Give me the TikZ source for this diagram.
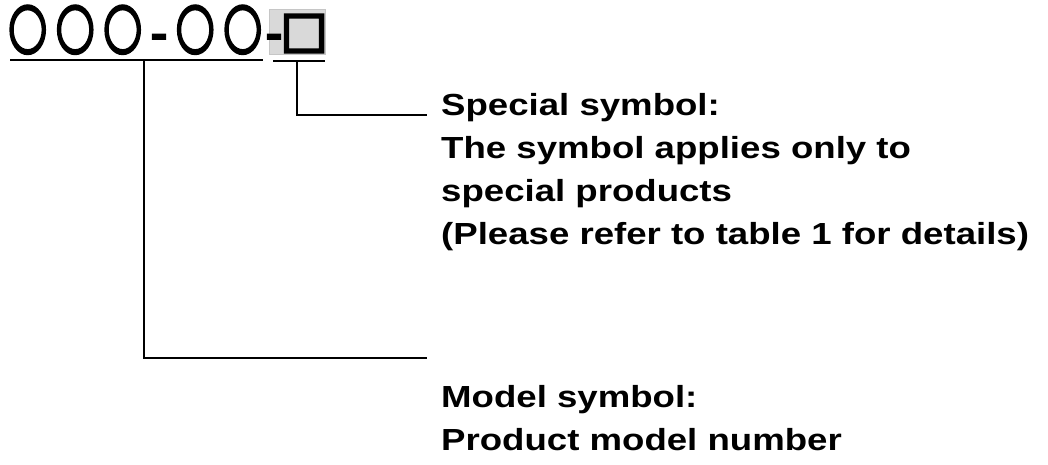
\documentclass[tikz,border=0pt]{standalone}
\usepackage{fontspec}
\setmainfont{Liberation Sans}[FakeStretch=1.2]
\newfontfamily\codefont{Noto Sans CJK JP}[FakeBold=8]
\usetikzlibrary{positioning}
\newcommand\codeslot[2]{\makebox[#1]{\scalebox{0.72}[1]{#2}}}
\newcommand\codedash[1]{\makebox[#1]{\raisebox{1pt}{\fontsize{42}{42}\selectfont -}}}

\begin{document}
\begin{tikzpicture}[x=1pt,y=-1pt]
  \tikzstyle{every node}+=[inner sep=0pt]
  \tikzstyle{note}=[anchor=base west, align=left, font=\fontsize{30.5}{43}\selectfont\bfseries]
  \tikzstyle{rule}=[black, line width=1.5pt]
  \useasboundingbox (0,0) rectangle (1048,465);
  % the code
  \node [fill=gray!30, draw=gray!45, minimum width=56pt, minimum height=45pt] (field) at (297,31.5) {};
  \node [anchor=base west, font=\codefont\fontsize{52}{52}\selectfont] (code) at (3.75,49.5)
    {\codeslot{47.5pt}{○}\codeslot{47.5pt}{○}\codeslot{47.5pt}{○}\codedash{25pt}\codeslot{47.5pt}{○}\codeslot{47.5pt}{○}\codedash{15pt}};
  \node [font=\codefont\fontsize{46}{46}\selectfont] (special) at (304,33.5) {□};
  % underlines
  \draw [rule] (10,60) coordinate (modelL) -- (263,60) coordinate (modelR);
  \draw [rule] (273,61) coordinate (specialL) -- (325,61) coordinate (specialR);
  \coordinate (modelfoot) at (144,60);
  \coordinate (specialfoot) at (297,61);
  % notes
  \node [note] (specialtext) at (441,244) {Special symbol:\\The symbol applies only to\\special products\\(Please refer to table 1 for details)};
  \node [note] (modeltext) at (441,450) {Model symbol:\\Product model number};
  \coordinate (specialend) at (427,115);
  \coordinate (modelend) at (427,358);
  \draw [rule] (specialfoot) |- (specialend);
  \draw [rule] (modelfoot) |- (modelend);
\end{tikzpicture}
\end{document}
